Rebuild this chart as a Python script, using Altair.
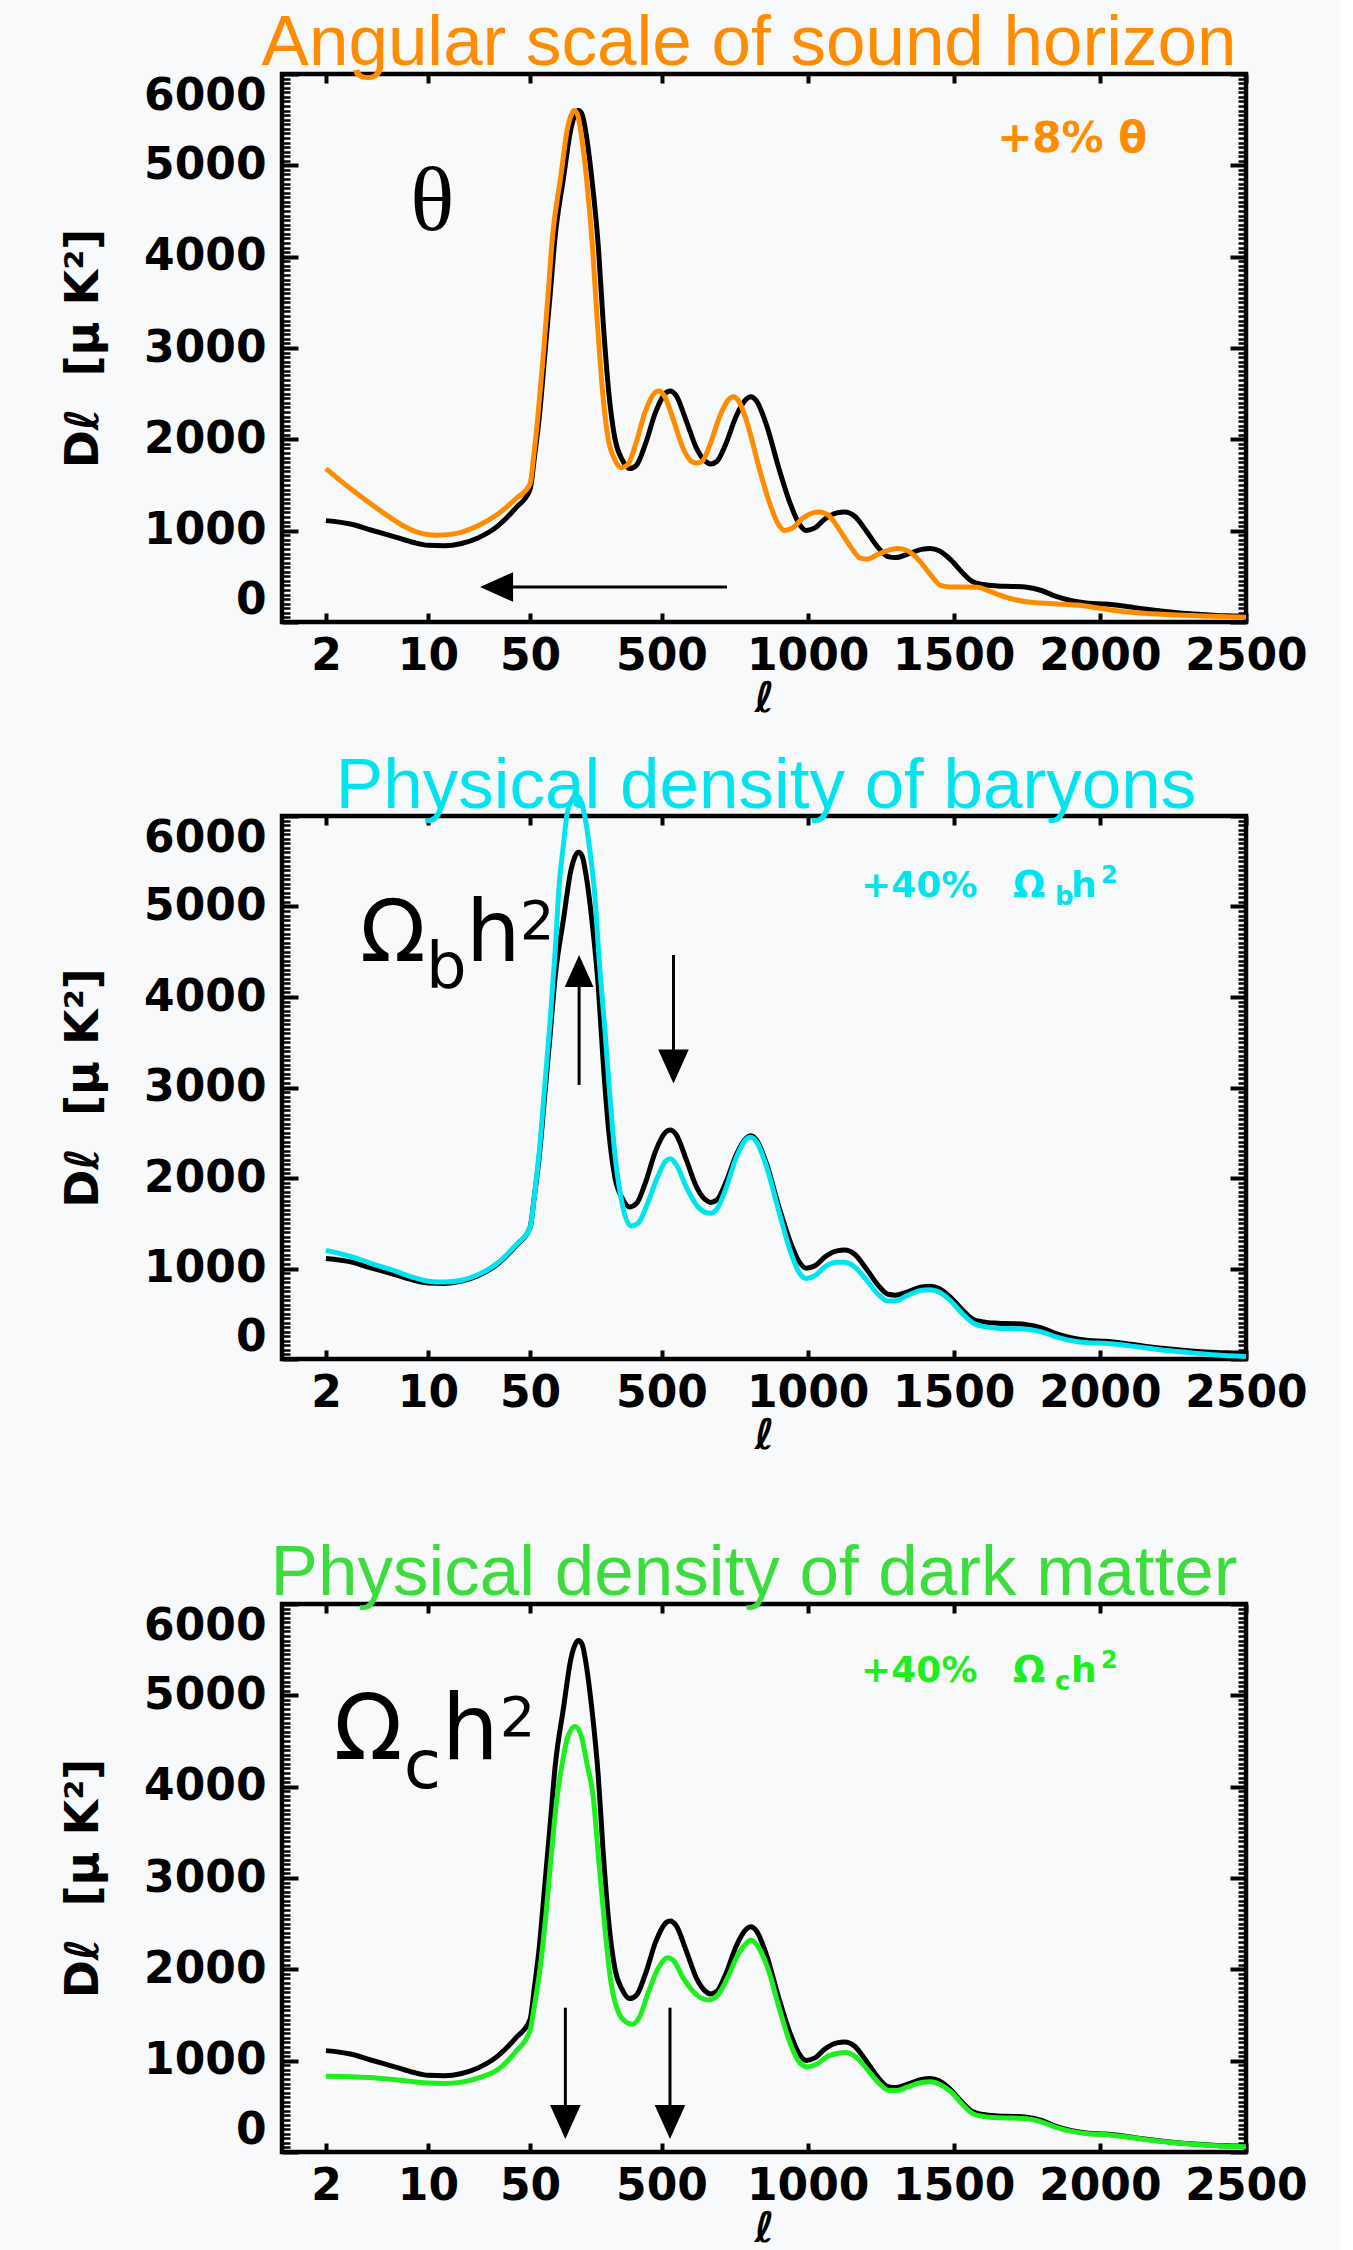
import math
import altair as alt
import pandas as pd

# ---------------- data ----------------
# fiducial (black) spectrum, same in all three panels
ELL_FID = [2, 3, 4, 6, 8, 10, 13, 17, 22, 30, 40, 50, 65, 82, 100, 118, 136, 165, 190, 205,
           216, 228, 245, 261, 284, 300, 320, 341, 365, 391, 415, 445, 480, 515, 530, 550, 585, 620, 650, 668,
           690, 720, 755, 790, 805, 825, 860, 900, 940, 970, 995, 1025, 1060, 1100, 1127, 1160, 1200, 1240, 1275, 1300,
           1340, 1390, 1420, 1450, 1490, 1530, 1565, 1600, 1650, 1700, 1750, 1800, 1850, 1900, 1960, 2016, 2080, 2152, 2240, 2322,
           2400, 2469, 2500]
DL_FID = [1110, 1070, 1010, 930, 870, 840, 835, 860, 920, 1050, 1250, 1450, 1800, 2250, 2900, 3550, 4220, 4870, 5400, 5560,
          5600, 5560, 5280, 4870, 4100, 3300, 2500, 2000, 1780, 1680, 1720, 1950, 2300, 2510, 2530, 2480, 2200, 1900, 1760, 1730,
          1760, 1950, 2250, 2440, 2466, 2420, 2150, 1700, 1300, 1080, 1003, 1030, 1130, 1195, 1204, 1160, 1000, 820, 715, 705,
          740, 795, 805, 780, 680, 540, 440, 410, 395, 390, 380, 345, 280, 235, 205, 196, 175, 142, 110, 87,
          72, 65, 60]

# +8% theta (orange)
ELL_TH = [2, 3, 4, 5, 7, 9, 11.4, 15, 22, 30, 40, 50, 62, 77, 95, 111, 127, 155, 178, 192,
          201, 212, 228, 243, 264, 280, 299, 318, 340, 362, 384, 412, 444, 477, 491, 509, 542, 574, 602, 619,
          639, 667, 699, 731, 745, 764, 796, 833, 870, 898, 921, 949, 981, 1018, 1040, 1074, 1111, 1148, 1180, 1205,
          1240, 1287, 1310, 1342, 1380, 1420, 1455, 1490, 1540, 1583, 1620, 1680, 1754, 1840, 1924, 2000, 2094, 2180, 2265, 2380,
          2469, 2500]
DL_TH = [1680, 1450, 1300, 1190, 1040, 970, 950, 965, 1055, 1180, 1350, 1510, 1800, 2250, 2900, 3550, 4220, 4870, 5400, 5560,
         5600, 5560, 5280, 4870, 4100, 3300, 2500, 2000, 1780, 1690, 1720, 1950, 2300, 2510, 2530, 2480, 2200, 1900, 1760, 1740,
         1760, 1950, 2250, 2440, 2466, 2420, 2150, 1700, 1300, 1080, 1003, 1030, 1130, 1195, 1204, 1160, 1000, 820, 700, 690,
         740, 795, 805, 780, 680, 520, 400, 382, 382, 380, 340, 270, 218, 200, 185, 150, 109, 90, 76, 62,
         55, 52]

# +40% Omega_b h^2 (cyan)
ELL_OB = [2, 3, 4, 6, 8, 10, 13, 17, 22, 30, 40, 50, 65, 82, 100, 118, 136, 149, 165, 176,
          190, 205, 216, 228, 237, 254, 271, 288, 305, 320, 341, 365, 395, 420, 450, 485, 515, 530, 550, 585,
          620, 650, 668, 690, 720, 755, 790, 805, 825, 860, 900, 940, 970, 995, 1025, 1060, 1100, 1127, 1160, 1200,
          1240, 1275, 1300, 1340, 1390, 1420, 1450, 1490, 1530, 1565, 1600, 1650, 1700, 1750, 1800, 1850, 1900, 1960, 2016, 2080,
          2152, 2240, 2322, 2400, 2469, 2500]
DL_OB = [1200, 1130, 1060, 970, 900, 860, 850, 870, 930, 1060, 1260, 1450, 1800, 2300, 3000, 3700, 4500, 5200, 5700, 6010,
         6160, 6220, 6210, 6130, 6010, 5640, 5150, 4350, 3690, 3050, 2250, 1720, 1470, 1500, 1700, 2000, 2190, 2212, 2150, 1900,
         1700, 1620, 1610, 1660, 1880, 2220, 2430, 2450, 2400, 2120, 1650, 1200, 960, 890, 920, 1020, 1070, 1068, 1020, 880,
         720, 640, 640, 700, 760, 765, 740, 640, 500, 400, 360, 340, 335, 330, 300, 245, 205, 180, 175, 155,
         125, 90, 65, 45, 32, 28]

# +40% Omega_c h^2 (green)
ELL_OC = [2, 3, 4, 6, 8, 10, 13, 17, 22, 30, 40, 50, 65, 82, 100, 120, 142, 160, 180, 204,
          225, 245, 267, 285, 305, 325, 350, 380, 400, 425, 455, 490, 520, 540, 575, 620, 660, 690, 725, 760,
          795, 805, 830, 865, 905, 945, 975, 1000, 1030, 1070, 1110, 1130, 1165, 1205, 1245, 1280, 1305, 1340, 1390, 1420,
          1450, 1490, 1530, 1565, 1600, 1650, 1700, 1750, 1800, 1850, 1900, 1960, 2016, 2080, 2152, 2240, 2322, 2400, 2469, 2500]
DL_OC = [830, 825, 815, 790, 770, 755, 750, 765, 810, 900, 1100, 1330, 1600, 1950, 2450, 3150, 3870, 4250, 4550, 4660,
         4560, 4250, 3870, 3200, 2500, 1900, 1550, 1420, 1400, 1480, 1750, 2020, 2126, 2100, 1900, 1720, 1665, 1710, 1900, 2150,
         2300, 2320, 2250, 2000, 1550, 1150, 970, 932, 960, 1050, 1085, 1089, 1040, 900, 750, 672, 672, 710, 760, 768,
         745, 660, 520, 420, 390, 375, 372, 365, 330, 270, 228, 200, 192, 170, 138, 106, 84, 68, 60, 58]

X_TICK_ELL = [2, 10, 50, 500, 1000, 1500, 2000, 2500]
Y_MAJOR = [0, 1000, 2000, 3000, 4000, 5000, 6000]
Y_MINOR = list(range(0, 6001, 50))
ELL_MIN, ELL_MAX = 1, 2500

TITLES = ["Angular scale of sound horizon", "Physical density of baryons", "Physical density of dark matter"]
Y_TITLE = "Dℓ\u00a0\u00a0[μ\u00a0K²]"
X_TITLE = "ℓ"

# annotations (positions in data units: multipole, D_ell)
P1_THETA = {"l": [10.7], "D": [4600]}
P1_NOTE = {"l": [1905], "D": [5290]}
P1_ARROW = {"l": [724], "l2": [29.5], "D": [383]}
P1_HEAD = {"l": [29.5], "D": [383]}

P2_SYM = {"l": [3.42], "D": [4398]}
P2_NOTE = {"l": [1183], "D": [5105]}
P2_UP = {"l": [218], "D": [3028], "D2": [4287]}
P2_UP_HEAD = {"l": [218], "D": [4287]}
P2_DOWN = {"l": [541], "D": [4464], "D2": [3232]}
P2_DOWN_HEAD = {"l": [541], "D": [3232]}

P3_SYM = {"l": [2.26], "D": [4303]}
P3_NOTE = {"l": [1183], "D": [5146]}
P3_DOWN = {"l": [171, 529], "D": [1580, 1580], "D2": [328, 328]}
P3_DOWN_HEAD = {"l": [171, 529], "D": [328, 328]}

# ---------------- hybrid log/linear multipole axis ----------------
L_PIVOT, LOG_K, LIN_K = 50, 146.6, 0.2935


def u_expr(f):
    return (f"datum.{f} <= {L_PIVOT} ? {LOG_K}*log(datum.{f}/{L_PIVOT})/LN10"
            f" : {LIN_K}*(datum.{f}-{L_PIVOT})")


def u_py(l):
    return LOG_K * math.log10(l / L_PIVOT) if l <= L_PIVOT else LIN_K * (l - L_PIVOT)


X_TICK_U = [u_py(v) for v in X_TICK_ELL]
LABEL_EXPR = (f"datum.value < 0.01 ? format({L_PIVOT}*pow(10, datum.value/{LOG_K}), '.0f')"
              f" : format(datum.value/{LIN_K}+{L_PIVOT}, '.0f')")
XSCALE = alt.Scale(domain=[u_py(ELL_MIN), u_py(ELL_MAX)], nice=False, zero=False)
YSCALE = alt.Scale(domain=[0, 6000], nice=False, zero=False)

NUM_FONT = "DejaVu Sans"
ORANGE = "#ff8c00"
CYAN = "#00e4f0"
GREEN_T = "#3ddc3d"
GREEN_L = "#1eee1e"
BG = "#f8f9fb"
W = 964


def x_main_axis():
    return alt.Axis(orient="bottom", values=X_TICK_U, labelExpr=LABEL_EXPR, ticks=False, domain=False,
                    grid=False, labelFont=NUM_FONT, labelFontSize=44, labelFontWeight="bold",
                    labelColor="black", labelPadding=12, labelFlush=False, labelOverlap=False,
                    title=X_TITLE, titleFont=NUM_FONT, titleFontSize=42, titleFontStyle="italic",
                    titleFontWeight="bold", titleColor="black", titlePadding=0)


def x_tick_axis(orient):
    return alt.Axis(orient=orient, values=X_TICK_U, labels=False, domain=False, grid=False, ticks=True,
                    tickSize=9, tickWidth=4, tickColor="black", offset=-9, title=None)


def y_main_axis():
    return alt.Axis(orient="left", values=Y_MAJOR, format="d", ticks=False, domain=False, grid=False,
                    labelFont=NUM_FONT, labelFontSize=44, labelFontWeight="bold", labelColor="black",
                    labelPadding=16, labelFlush=True, labelOverlap=False, title=Y_TITLE,
                    titleFont=NUM_FONT, titleFontSize=46, titleFontWeight="bold", titleColor="black",
                    titlePadding=36)


def y_tick_axis(orient, values, size, width):
    return alt.Axis(orient=orient, values=values, labels=False, domain=False, grid=False, ticks=True,
                    tickSize=size, tickWidth=width, tickColor="black", offset=-size, title=None)


FID_DF = pd.DataFrame({"l": ELL_FID, "D": DL_FID})


def enc_xy(ch):
    return ch.encode(x=alt.X("u:Q", scale=XSCALE, axis=None), y=alt.Y("D:Q", scale=YSCALE, axis=None))


def carriers():
    specs = [(x_main_axis(), y_main_axis()),
             (x_tick_axis("bottom"), y_tick_axis("left", Y_MAJOR, 16, 4)),
             (x_tick_axis("top"), y_tick_axis("left", Y_MINOR, 8, 2.5)),
             (None, y_tick_axis("right", Y_MAJOR, 16, 4)),
             (None, y_tick_axis("right", Y_MINOR, 8, 2.5))]
    out = []
    for xa, ya in specs:
        out.append(alt.Chart(FID_DF).transform_calculate(u=u_expr("l")).mark_line(opacity=0).encode(
            x=alt.X("u:Q", scale=XSCALE, axis=xa), y=alt.Y("D:Q", scale=YSCALE, axis=ya)))
    return out


def line(ell, dl, color, width):
    df = pd.DataFrame({"l": ell, "D": dl})
    return enc_xy(alt.Chart(df).transform_calculate(u=u_expr("l")).mark_line(
        color=color, strokeWidth=width, interpolate="monotone", clip=False))


def pieces(pos, parts, color, font, align="left", baseline="alphabetic"):
    df = pd.DataFrame(pos)
    out = []
    for t, size, dx, dy, weight in parts:
        out.append(enc_xy(alt.Chart(df).transform_calculate(u=u_expr("l")).mark_text(
            text=t, font=font, fontSize=size, fontWeight=weight, color=color, align=align,
            baseline=baseline, dx=dx, dy=dy)))
    return out


def hrule(pos):
    df = pd.DataFrame(pos)
    return alt.Chart(df).transform_calculate(u=u_expr("l"), u2=u_expr("l2")).mark_rule(
        color="black", strokeWidth=3).encode(
        x=alt.X("u:Q", scale=XSCALE, axis=None), x2="u2:Q", y=alt.Y("D:Q", scale=YSCALE, axis=None))


def vrule(pos):
    df = pd.DataFrame(pos)
    return alt.Chart(df).transform_calculate(u=u_expr("l")).mark_rule(
        color="black", strokeWidth=3).encode(
        x=alt.X("u:Q", scale=XSCALE, axis=None), y=alt.Y("D:Q", scale=YSCALE, axis=None), y2="D2:Q")


LEFT_HEAD = "M -1 0 L 1 -0.9 L 1 0.9 Z"
UP_HEAD = "M 0 -1 L -0.9 1 L 0.9 1 Z"
DOWN_HEAD = "M 0 1 L -0.9 -1 L 0.9 -1 Z"


def head(pos, shape, size):
    df = pd.DataFrame(pos)
    return enc_xy(alt.Chart(df).transform_calculate(u=u_expr("l")).mark_point(
        shape=shape, size=size, filled=True, color="black", opacity=1, strokeWidth=0))


def panel(title, tcolor, tdx, toff, height, layers):
    return alt.layer(*carriers(), *layers).resolve_axis(x="independent", y="independent").properties(
        width=W, height=height,
        title=alt.TitleParams(text=title, font="Liberation Sans", fontSize=71, fontWeight="normal",
                              color=tcolor, anchor="middle", frame="group", baseline="alphabetic",
                              offset=toff, dx=tdx))


p1 = panel(TITLES[0], ORANGE, -15, -64, 548, [
    line(ELL_FID, DL_FID, "black", 5),
    line(ELL_TH, DL_TH, ORANGE, 5),
    hrule(P1_ARROW),
    head(P1_HEAD, LEFT_HEAD, 1089),
    *pieces(P1_THETA, [("θ", 92, 0, 0, "normal")], "black", "Liberation Serif", align="center",
            baseline="middle"),
    *pieces(P1_NOTE, [("+8% θ", 42, 0, 0, "bold")], ORANGE, NUM_FONT, align="center", baseline="middle"),
])

p2 = panel(TITLES[1], CYAN, 2, -93, 543, [
    line(ELL_FID, DL_FID, "black", 5),
    line(ELL_OB, DL_OB, CYAN, 5),
    vrule(P2_UP), head(P2_UP_HEAD, UP_HEAD, 1024),
    vrule(P2_DOWN), head(P2_DOWN_HEAD, DOWN_HEAD, 1156),
    *pieces(P2_SYM, [("Ω", 86, 0, 0, "normal"), ("b", 64, 66, 27, "normal"),
                     ("h", 86, 106, 0, "normal"), ("2", 54, 160, -22, "normal")], "black", NUM_FONT),
    *pieces(P2_NOTE, [("+40%", 36, 0, 0, "bold"), ("Ω", 38, 152, 0, "bold"), ("b", 26, 194, 8, "bold"),
                      ("h", 36, 210, 0, "bold"), ("2", 24, 240, -14, "bold")], CYAN, NUM_FONT),
])

p3 = panel(TITLES[2], GREEN_T, -10, -64, 548, [
    line(ELL_FID, DL_FID, "black", 5),
    line(ELL_OC, DL_OC, GREEN_L, 5),
    vrule(P3_DOWN), head(P3_DOWN_HEAD, DOWN_HEAD, 1156),
    *pieces(P3_SYM, [("Ω", 90, 0, 0, "normal"), ("c", 68, 70, 29, "normal"),
                     ("h", 90, 108, 0, "normal"), ("2", 56, 166, -23, "normal")], "black", NUM_FONT),
    *pieces(P3_NOTE, [("+40%", 36, 0, 0, "bold"), ("Ω", 38, 152, 0, "bold"), ("c", 26, 194, 8, "bold"),
                      ("h", 36, 210, 0, "bold"), ("2", 24, 240, -14, "bold")], GREEN_L, NUM_FONT),
])

chart = alt.vconcat(alt.vconcat(p1, p2, spacing=26), p3, spacing=76).properties(
    padding={"left": 58, "top": 5, "right": 30, "bottom": 0}, background=BG
).configure_view(stroke="black", strokeWidth=4.5)

chart.save("out.html", embed_options={"renderer": "svg", "actions": False})
